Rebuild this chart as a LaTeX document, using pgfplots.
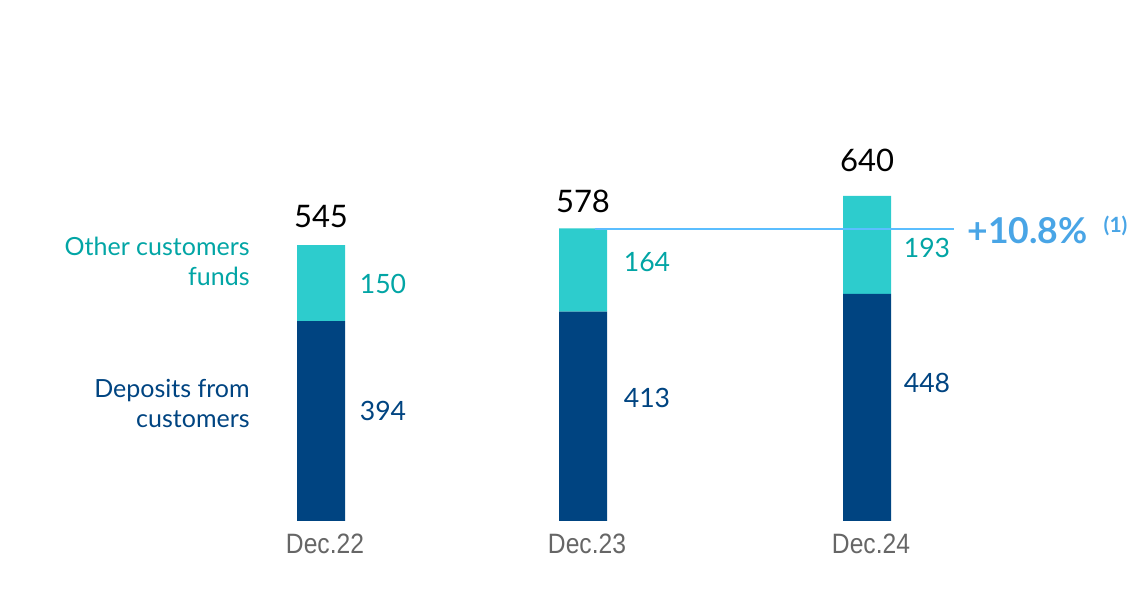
\documentclass[border=0pt]{standalone}
\usepackage{fontspec}
\setmainfont{Lato}
\newfontfamily\condfont[FakeStretch=0.88]{Liberation Sans}
\usepackage{pgfplots}
\pgfplotsset{compat=1.18}
\definecolor{navy}{HTML}{004481}
\definecolor{aqua}{HTML}{2DCCCD}
\definecolor{aquatext}{HTML}{02A5A5}
\definecolor{lblue}{HTML}{5BBEFF}
\definecolor{pctblue}{HTML}{49A5E6}
\definecolor{catgray}{HTML}{666666}
\begin{document}
\begin{tikzpicture}
\begin{axis}[
  set layers,
  scale only axis, width=573.5pt, height=260.5pt,
  xmin=-1.2252, xmax=3.1527, ymin=0, ymax=1027.6,
  ybar stacked, bar width=24pt,
  axis line style={draw=none}, tick style={draw=none},
  ytick=\empty,
  xtick={0,1,2.084}, xticklabels={Dec.22,Dec.23,Dec.24},
  xticklabel style={font=\condfont\fontsize{14}{16}\selectfont, text=catgray, yshift=-3pt, xshift=2pt},
  clip=false,
]
\draw[on layer=axis background, lblue, line width=0.6pt] (axis cs:1.046,576) -- (axis cs:2.416,576);
\addplot[fill=navy, draw=none] coordinates {(0,394) (1,413) (2.084,448)};
\addplot[fill=aqua, draw=none] coordinates {(0,150) (1,164) (2.084,193)};
% totals
\node[font=\fontsize{15.5}{18}\selectfont, text=black] at (axis cs:0,600) {545};
\node[font=\fontsize{15.5}{18}\selectfont, text=black] at (axis cs:1,631) {578};
\node[font=\fontsize{15.5}{18}\selectfont, text=black] at (axis cs:2.084,712) {640};
% segment values
\node[font=\fontsize{13.3}{16}\selectfont, text=aquatext, xshift=31pt] at (axis cs:0,467) {150};
\node[font=\fontsize{13.3}{16}\selectfont, text=navy, xshift=31pt] at (axis cs:0,217) {394};
\node[font=\fontsize{13.3}{16}\selectfont, text=aquatext, xshift=32pt] at (axis cs:1,511) {164};
\node[font=\fontsize{13.3}{16}\selectfont, text=navy, xshift=32pt] at (axis cs:1,243) {413};
\node[font=\fontsize{13.3}{16}\selectfont, text=aquatext, xshift=30pt] at (axis cs:2.084,538) {193};
\node[font=\fontsize{13.3}{16}\selectfont, text=navy, xshift=30pt] at (axis cs:2.084,272) {448};
% series names
\node[anchor=east, align=right, font=\fontsize{12.5}{15}\selectfont, text=aquatext, inner sep=0pt] at (axis cs:-0.271,513) {Other customers\\funds};
\node[anchor=east, align=right, font=\fontsize{12.5}{15}\selectfont, text=navy, inner sep=0pt] at (axis cs:-0.271,231) {Deposits from\\customers};
% growth
\node[anchor=west, inner sep=0pt, text=pctblue] at (axis cs:2.466,574) {\fontsize{17.8}{20}\selectfont\bfseries +10.8\%\hspace{8pt}\raisebox{5.5pt}{\fontsize{10.5}{11}\selectfont\bfseries (1)}};
% full canvas
\path (axis cs:-1.2252,-144) (axis cs:3.1527,1027.6);
\end{axis}
\end{tikzpicture}
\end{document}
